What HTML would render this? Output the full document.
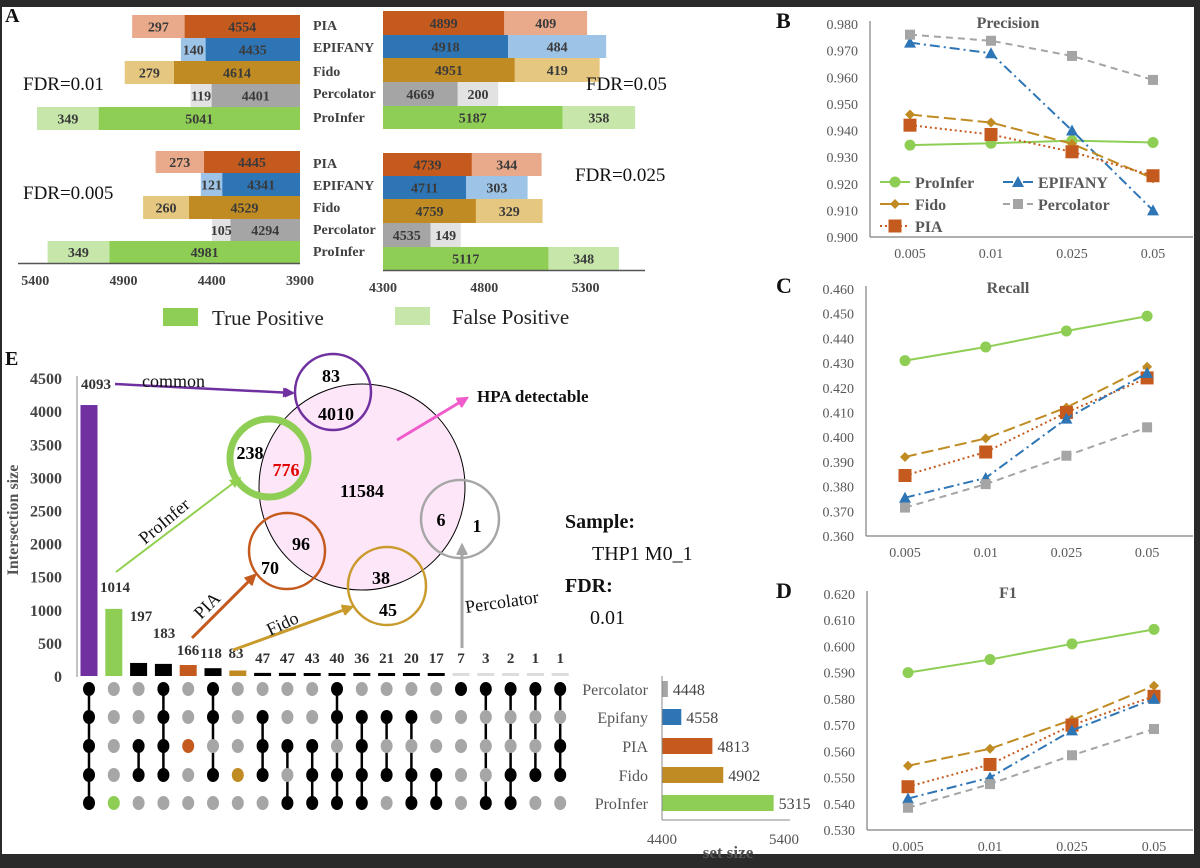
<!DOCTYPE html>
<html><head><meta charset="utf-8"><style>
html,body{margin:0;padding:0;background:#2a2a2a;}
#wrap{position:relative;width:1200px;height:868px;overflow:hidden;background:#2a2a2a;}
svg{position:absolute;left:0;top:0;font-family:"Liberation Serif",serif;}
</style></head><body>
<div id="wrap">
<svg id="fig" width="1200" height="868">
<rect x="2" y="7" width="1192" height="847" fill="#ffffff"/>
</svg>
</div>
<script>
// ---------- DATA ----------
// Panel A
const aMethods = ["PIA","EPIFANY","Fido","Percolator","ProInfer"];
const aTP_001 = [4554,4435,4614,4401,5041];
const aFP_001 = [297,140,279,119,349];
const aTP_005 = [4899,4918,4951,4669,5187];
const aFP_005 = [409,484,419,200,358];
const aTP_0005 = [4445,4341,4529,4294,4981];
const aFP_0005 = [273,121,260,105,349];
const aTP_0025 = [4739,4711,4759,4535,5117];
const aFP_0025 = [344,303,329,149,348];
const aLeftTicks = [5400,4900,4400,3900];
const aRightTicks = [4300,4800,5300];
// Panels B-D
const fdrCats = ["0.005","0.01","0.025","0.05"];
const precProInfer = [0.9345,0.9352,0.9362,0.9355];
const precEpifany = [0.973,0.969,0.940,0.910];
const precFido = [0.946,0.943,0.935,0.922];
const precPercolator = [0.976,0.9737,0.968,0.959];
const precPIA = [0.942,0.9385,0.932,0.923];
const recProInfer = [0.431,0.4365,0.443,0.449];
const recFido = [0.392,0.3995,0.412,0.4285];
const recPIA = [0.3845,0.394,0.410,0.424];
const recEpifany = [0.3755,0.3835,0.4075,0.426];
const recPercolator = [0.3715,0.381,0.3925,0.404];
const f1ProInfer = [0.590,0.595,0.601,0.6065];
const f1Fido = [0.5545,0.561,0.572,0.585];
const f1PIA = [0.5465,0.555,0.570,0.581];
const f1Epifany = [0.542,0.550,0.568,0.580];
const f1Percolator = [0.5385,0.5475,0.5585,0.5685];
const precTicks = ["0.980","0.970","0.960","0.950","0.940","0.930","0.920","0.910","0.900"];
const recTicks = ["0.460","0.450","0.440","0.430","0.420","0.410","0.400","0.390","0.380","0.370","0.360"];
const f1Ticks = ["0.620","0.610","0.600","0.590","0.580","0.570","0.560","0.550","0.540","0.530"];
// Panel E
const eSizes = [4093,1014,197,183,166,118,83,47,47,43,40,36,21,20,17,7,3,2,1,1];
const eSets = ["Percolator","Epifany","PIA","Fido","ProInfer"];
const eMembers = [[0,1,2,3,4],[4],[2,3],[0,1,2,3],[2],[0,1,3],[3],[1,2,3],[2,4],[2,3,4],[0,1,3,4],[1,2,3,4],[1,3],[1,3,4],[3,4],[0],[0,4],[0,3,4],[0,3],[0,2,3]];
const eSetSizes = [4448,4558,4813,4902,5315];
const eYTicks = [0,500,1000,1500,2000,2500,3000,3500,4000,4500];

// ---------- HELPERS ----------
const NS="http://www.w3.org/2000/svg";
const svg=document.getElementById('fig');
function mk(tag,attrs,parent){const e=document.createElementNS(NS,tag);for(const k in attrs)e.setAttribute(k,attrs[k]);(parent||svg).appendChild(e);return e;}
function txt(x,y,s,attrs){const e=mk('text',Object.assign({x:x,y:y},attrs||{}));e.textContent=s;return e;}

const tpCol={PIA:"#c55a1e",EPIFANY:"#2e75b6",Fido:"#c08b22",Percolator:"#a5a5a5",ProInfer:"#8fce55"};
const fpCol={PIA:"#e9aa8b",EPIFANY:"#9dc3e6",Fido:"#e5c77f",Percolator:"#e2e2e2",ProInfer:"#c6e6aa"};

// ---------- PANEL A ----------
let e;
e=txt(5,22,"A",{"font-size":20,"font-weight":"bold",fill:"#111"});



function leftX(v){return 300-(v-3900)*0.1765;}
function rightX(v){return 383+(v-4300)*0.2025;}
function barGroup(tp,fp,rows,xf,dir,name){
  for(let i=0;i<aMethods.length;i++){
    const m=aMethods[i];const y0=rows[i],h=rows[i+1]-rows[i];
    const base=dir<0?3900:4300;
    const xa=xf(base),xb=xf(tp[i]),xc=xf(tp[i]+fp[i]);
    let r=mk('rect',{x:Math.min(xa,xb),y:y0,width:Math.abs(xb-xa),height:h,fill:tpCol[m]});
    
    
    r=mk('rect',{x:Math.min(xb,xc),y:y0,width:Math.abs(xc-xb),height:h,fill:fpCol[m]});
    
    
    let t=txt((xa+xb)/2,y0+h/2+5,String(tp[i]),{"text-anchor":"middle","font-size":14,"font-weight":"bold",fill:"#3a3a3a"});
    
    
    t=txt((xb+xc)/2,y0+h/2+5,String(fp[i]),{"text-anchor":"middle","font-size":14,"font-weight":"bold",fill:"#3a3a3a"});
    
    
  }
}
barGroup(aTP_001,aFP_001,[15,38,61,84,107,130],leftX,-1,'fdr001');
barGroup(aTP_0005,aFP_0005,[151,173,196,219,241,263],leftX,-1,'fdr0005');
barGroup(aTP_005,aFP_005,[11,35,58,82,106,129],rightX,1,'fdr005');
barGroup(aTP_0025,aFP_0025,[153,176,199,223,247,270],rightX,1,'fdr0025');
// method labels
const labYTop=[30,52,76,98,122], labYBot=[168,190,212,234,256];
for(let i=0;i<aMethods.length;i++){
  let t=txt(313,labYTop[i],aMethods[i],{"font-size":14,"font-weight":"bold",fill:"#404040"});
  
  
  t=txt(313,labYBot[i],aMethods[i],{"font-size":14,"font-weight":"bold",fill:"#404040"});
  
  
}
e=mk('line',{x1:18,y1:263.5,x2:300,y2:263.5,stroke:"#555","stroke-width":1.5});


e=mk('line',{x1:383,y1:270.5,x2:645,y2:270.5,stroke:"#555","stroke-width":1.5});


aLeftTicks.forEach(v=>{const t=txt(leftX(v),285,String(v),{"text-anchor":"middle","font-size":14,"font-weight":"bold",fill:"#404040"});
  
  });
aRightTicks.forEach(v=>{const t=txt(rightX(v),292,String(v),{"text-anchor":"middle","font-size":14,"font-weight":"bold",fill:"#404040"});
  
  });
[["FDR=0.01",23,90],["FDR=0.05",586,90],["FDR=0.005",23,199],["FDR=0.025",575,181]].forEach(a=>{
  const t=txt(a[1],a[2],a[0],{"font-size":19,fill:"#111"});
  
  });
e=mk('rect',{x:163,y:308,width:35,height:18,fill:"#8fce55"});


e=txt(212,325,"True Positive",{"font-size":21,fill:"#222"});


e=mk('rect',{x:395,y:307,width:35,height:18,fill:"#c6e6aa"});


e=txt(452,324,"False Positive",{"font-size":21,fill:"#222"});



// ---------- PANELS B-D ----------
const styles={
  ProInfer:{c:"#8fce55",dash:"",m:"circle"},
  EPIFANY:{c:"#2e75b6",dash:"10 4 2 4",m:"tri"},
  Fido:{c:"#c08b22",dash:"12 5",m:"diamond"},
  Percolator:{c:"#a5a5a5",dash:"7 5",m:"sq"},
  PIA:{c:"#c55a1e",dash:"2 3",m:"bigsq"}
};
function marker(type,x,y,c,name){
  let el;
  if(type==="circle")el=mk('circle',{cx:x,cy:y,r:5.5,fill:c});
  else if(type==="tri")el=mk('polygon',{points:`${x},${y-6} ${x-6},${y+5} ${x+6},${y+5}`,fill:c});
  else if(type==="diamond")el=mk('polygon',{points:`${x},${y-5} ${x+5},${y} ${x},${y+5} ${x-5},${y}`,fill:c});
  else if(type==="sq")el=mk('rect',{x:x-5,y:y-5,width:10,height:10,fill:c});
  else el=mk('rect',{x:x-6.5,y:y-6.5,width:13,height:13,fill:c});
  
  
}
function lineChart(cfg){
  const ys=v=>cfg.bot-(v-cfg.min)/(cfg.max-cfg.min)*(cfg.bot-cfg.top);
  const xs=i=>cfg.x0+i*cfg.step;
  let l=mk('line',{x1:cfg.ax,y1:cfg.top-3,x2:cfg.ax,y2:cfg.bot,stroke:"#7f7f7f","stroke-width":1.2});
  
  
  l=mk('line',{x1:cfg.ax,y1:cfg.bot,x2:1193,y2:cfg.bot,stroke:"#7f7f7f","stroke-width":1.2});
  
  
  cfg.ticks.forEach(s=>{const t=txt(cfg.ax-12,ys(parseFloat(s))+5,s,{"text-anchor":"end","font-size":14,fill:"#595959"});
    
    });
  fdrCats.forEach((s,i)=>{const t=txt(xs(i),cfg.bot+21,s,{"text-anchor":"middle","font-size":14,fill:"#595959"});
    
    });
  let t=txt(1008,cfg.top+4,cfg.title,{"text-anchor":"middle","font-size":16,"font-weight":"bold",fill:"#595959"});
  
  
  t=txt(776,cfg.top+4,cfg.label,{"font-size":22,"font-weight":"bold",fill:"#111"});
  
  
  cfg.series.forEach(sr=>{
    const st=styles[sr[0]];
    const pts=sr[1].map((v,i)=>xs(i)+','+ys(v)).join(' ');
    const pl=mk('polyline',{points:pts,fill:"none",stroke:st.c,"stroke-width":2,"stroke-dasharray":st.dash});
    
    
    sr[1].forEach((v,i)=>marker(st.m,xs(i),ys(v),st.c,cfg.name+'-point-'+sr[0].toLowerCase()));
  });
}
lineChart({name:'precision',title:'Precision',label:'B',top:24,bot:237,min:0.900,max:0.980,ax:870,x0:910,step:81,ticks:precTicks,
  series:[["ProInfer",precProInfer],["EPIFANY",precEpifany],["Fido",precFido],["Percolator",precPercolator],["PIA",precPIA]]});
lineChart({name:'recall',title:'Recall',label:'C',top:289,bot:536,min:0.360,max:0.460,ax:866,x0:905,step:80.7,ticks:recTicks,
  series:[["ProInfer",recProInfer],["Fido",recFido],["PIA",recPIA],["EPIFANY",recEpifany],["Percolator",recPercolator]]});
lineChart({name:'f1',title:'F1',label:'D',top:594,bot:830,min:0.530,max:0.620,ax:867,x0:908,step:82,ticks:f1Ticks,
  series:[["ProInfer",f1ProInfer],["Fido",f1Fido],["PIA",f1PIA],["EPIFANY",f1Epifany],["Percolator",f1Percolator]]});
// legend in B
[["ProInfer",880,182],["EPIFANY",1003,182],["Fido",880,204],["Percolator",1003,204],["PIA",880,226]].forEach(a=>{
  const st=styles[a[0]];
  const l=mk('line',{x1:a[1],y1:a[2],x2:a[1]+30,y2:a[2],stroke:st.c,"stroke-width":2,"stroke-dasharray":st.dash});
  
  
  marker(st.m,a[1]+15,a[2],st.c,'precision-legend-marker');
  const t=txt(a[1]+35,a[2]+6,a[0],{"font-size":16,"font-weight":"bold",fill:"#595959"});
  
  
});

// ---------- PANEL E ----------
e=txt(5,365,"E",{"font-size":20,"font-weight":"bold",fill:"#111"});


const eY=v=>676-v*0.0662;
const eX=i=>89+i*24.8;
e=mk('line',{x1:77,y1:376,x2:77,y2:677,stroke:"#888","stroke-width":1});


eYTicks.forEach(v=>{const t=txt(62,eY(v)+6,String(v),{"text-anchor":"end","font-size":16,"font-weight":"bold",fill:"#444"});
  
  });
e=txt(0,0,"Intersection size",{"font-size":16,"font-weight":"bold",fill:"#555","text-anchor":"middle",transform:"translate(18,520) rotate(-90)"});


const barCols=["#7030a0","#8fce55","#000","#000","#c55a1e","#000","#c08b22"];
const valLabelPos=[[96,389],[115,592],[141,621],[164,638],[188,655],[211,658],[236,658]];
eSizes.forEach((v,i)=>{
  const col=i<barCols.length?barCols[i]:(i<15?"#000":"#ddd");
  const h=Math.max(676-eY(v),i>=7?3:0);
  const r=mk('rect',{x:eX(i)-8.5,y:676-h,width:17,height:h,fill:col});
  
  
  const p=i<valLabelPos.length?valLabelPos[i]:[eX(i),663];
  const t=txt(p[0],p[1],String(v),{"text-anchor":"middle","font-size":15,"font-weight":"bold",fill:"#333"});
  
  
});
const rowY=[689,717,746,775,803];
const rowHi=["#000","#000","#c55a1e","#c08b22","#8fce55"];
eMembers.forEach((mem,i)=>{
  const x=eX(i);
  if(mem.length>1){
    const l=mk('line',{x1:x,y1:rowY[Math.min(...mem)],x2:x,y2:rowY[Math.max(...mem)],stroke:"#000","stroke-width":2.5});
    
    
  }
  rowY.forEach((y,r)=>{
    const on=mem.includes(r);
    const c=on?(mem.length===1?rowHi[r]:"#000"):"#a6a6a6";
    const d=mk('ellipse',{cx:x,cy:y,rx:6,ry:7,fill:c});
    
    
  });
});
// set size bars
const sX=v=>662+(v-4400)*0.122;
const setCols=["#a5a5a5","#2e75b6","#c55a1e","#c08b22","#8fce55"];
eSets.forEach((s,i)=>{
  const r=mk('rect',{x:662,y:rowY[i]-8,width:sX(eSetSizes[i])-662,height:16,fill:setCols[i]});
  
  
  let t=txt(648,rowY[i]+6,s,{"text-anchor":"end","font-size":16,fill:"#555"});
  
  
  t=txt(sX(eSetSizes[i])+5,rowY[i]+6,String(eSetSizes[i]),{"font-size":16,fill:"#444"});
  
  
});
e=mk('line',{x1:662,y1:676,x2:662,y2:820,stroke:"#888","stroke-width":1});


e=mk('line',{x1:662,y1:820,x2:790,y2:820,stroke:"#888","stroke-width":1});


[4400,5400].forEach(v=>{const t=txt(sX(v),844,String(v),{"text-anchor":"middle","font-size":15,fill:"#555"});
  
  });
e=txt(728,858,"set size",{"text-anchor":"middle","font-size":17,"font-weight":"bold",fill:"#555"});



// Venn
mk('defs',{}).innerHTML='<marker id="ah" viewBox="0 0 10 10" refX="8" refY="5" markerWidth="4" markerHeight="4" orient="auto"><path d="M0,0L10,5L0,10z" fill="context-stroke"/></marker>';
function circ(cx,cy,r,stroke,sw,fill,name){const c=mk('circle',{cx:cx,cy:cy,r:r,fill:fill||"none",stroke:stroke,"stroke-width":sw});
  
  }
circ(362,487,103,"#000",1,"#fde6f8",'hpa-circle');
circ(333,392,38,"#7030a0",2.5,null,'common-circle');
circ(269,458,39,"#8fce55",7,null,'proinfer-circle');
circ(287,551,38,"#c55a1e",2.5,null,'pia-circle');
circ(387,586,39,"#c99a2c",2.5,null,'fido-circle');
circ(460,519,39,"#a6a6a6",2.5,null,'percolator-circle');
function arrow(x1,y1,x2,y2,c,w,name){
  const l=mk('line',{x1:x1,y1:y1,x2:x2,y2:y2,stroke:c,"stroke-width":w,"marker-end":"url(#ah)"});
  
  
  const a=Math.atan2(y2-y1,x2-x1),s=10;
  const p=mk('polygon',{points:`${x2},${y2} ${x2-s*Math.cos(a)+5*Math.sin(a)},${y2-s*Math.sin(a)-5*Math.cos(a)} ${x2-s*Math.cos(a)-5*Math.sin(a)},${y2-s*Math.sin(a)+5*Math.cos(a)}`,fill:c});
  
  
}
arrow(115,384,293,393,"#7030a0",2.5,'common-arrow');
arrow(397,440,467,398,"#f05ccc",3,'hpa-arrow');
arrow(116,572,240,478,"#92d050",2,'proinfer-arrow');
arrow(192,638,255,575,"#c55a1e",3,'pia-arrow');
arrow(233,650,352,607,"#c99a2c",3,'fido-arrow');
arrow(462,648,462,545,"#a6a6a6",3,'percolator-arrow');
[["83",331,382,"#000"],["4010",336,420,"#000"],["238",250,459,"#000"],["776",286,476,"#e00000"],["11584",362,497,"#000"],
 ["96",301,550,"#000"],["70",270,574,"#000"],["38",381,584,"#000"],["45",388,616,"#000"],["6",441,526,"#000"],["1",477,532,"#000"]].forEach(a=>{
  const t=txt(a[1],a[2],a[0],{"text-anchor":"middle","font-size":18,"font-weight":"bold",fill:a[3]});
  
  });
e=txt(142,387,"common",{"font-size":18,fill:"#111"});


e=txt(477,402,"HPA detectable",{"font-size":17,"font-weight":"bold",fill:"#111"});


e=txt(0,0,"ProInfer",{"font-size":18,fill:"#111",transform:"translate(145,545) rotate(-40)"});


e=txt(0,0,"PIA",{"font-size":18,fill:"#111",transform:"translate(201,620) rotate(-45)"});


e=txt(0,0,"Fido",{"font-size":18,fill:"#111",transform:"translate(270,636) rotate(-25)"});


e=txt(0,0,"Percolator",{"font-size":18,fill:"#111",transform:"translate(466,613) rotate(-8)"});


[["Sample:",565,528,true],["THP1 M0_1",592,560,false],["FDR:",565,592,true],["0.01",590,624,false]].forEach(a=>{
  const t=txt(a[1],a[2],a[0],{"font-size":20,"font-weight":a[3]?"bold":"normal",fill:"#111"});
  
  });
</script>
</body></html>
